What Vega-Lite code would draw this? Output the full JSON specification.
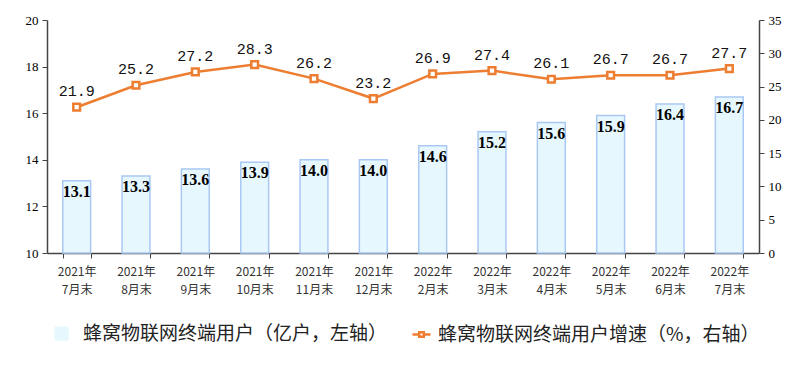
{
  "$schema": "https://vega.github.io/schema/vega-lite/v6.json",
  "width": 712,
  "height": 233,
  "autosize": {"type": "none"},
  "padding": {"left": 47, "top": 20, "right": 46, "bottom": 124},
  "background": "white",
  "config": {"view": {"stroke": null}},
  "data": {"values": [
    {"m": "2021年 7月末", "v": 13.1, "g": 21.9},
    {"m": "2021年 8月末", "v": 13.3, "g": 25.2},
    {"m": "2021年 9月末", "v": 13.6, "g": 27.2},
    {"m": "2021年 10月末", "v": 13.9, "g": 28.3},
    {"m": "2021年 11月末", "v": 14.0, "g": 26.2},
    {"m": "2021年 12月末", "v": 14.0, "g": 23.2},
    {"m": "2022年 2月末", "v": 14.6, "g": 26.9},
    {"m": "2022年 3月末", "v": 15.2, "g": 27.4},
    {"m": "2022年 4月末", "v": 15.6, "g": 26.1},
    {"m": "2022年 5月末", "v": 15.9, "g": 26.7},
    {"m": "2022年 6月末", "v": 16.4, "g": 26.7},
    {"m": "2022年 7月末", "v": 16.7, "g": 27.7}
  ]},
  "encoding": {
    "x": {
      "field": "m", "type": "nominal", "sort": null,
      "scale": {"paddingInner": 0.53, "paddingOuter": 0.265},
      "axis": {
        "title": null, "labelAngle": 0,
        "labelExpr": "isValid(datum.value) ? split(datum.value, ' ') : ''",
        "labelFont": "Noto Sans CJK SC", "labelFontSize": 12, "labelColor": "#333",
        "labelLineHeight": 18, "labelPadding": 8,
        "tickBand": "extent", "tickSize": 5, "tickColor": "#444",
        "domainColor": "#444", "domainWidth": 1.5
      }
    }
  },
  "layer": [
    {
      "encoding": {
        "y": {
          "field": "v", "type": "quantitative",
          "scale": {"domain": [10, 20], "zero": false, "nice": false},
          "axis": {
            "orient": "left", "title": null, "values": [10, 12, 14, 16, 18, 20], "grid": false,
            "labelFont": "Liberation Serif", "labelFontSize": 13, "labelColor": "#000",
            "tickSize": 5, "tickColor": "#444", "domainColor": "#444", "domainWidth": 1.5, "labelPadding": 4
          }
        }
      },
      "layer": [
        {
          "mark": {"type": "bar", "stroke": "#a9c8f3", "strokeWidth": 1.5},
          "encoding": {
            "y2": {"datum": 10},
            "fill": {
              "datum": "蜂窝物联网终端用户（亿户，左轴）",
              "scale": {"range": ["#e6f8fe"]},
              "legend": {
                "orient": "none", "legendX": 5, "legendY": 304,
                "title": null, "symbolType": "square", "symbolSize": 200,
                "symbolStrokeWidth": 0,
                "labelFont": "Noto Sans CJK SC", "labelFontSize": 19, "labelColor": "#222",
                "labelLimit": 400, "labelOffset": 12
              }
            }
          }
        },
        {
          "mark": {"type": "text", "font": "Liberation Serif", "fontWeight": "bold", "fontSize": 16, "baseline": "top", "dy": 3, "color": "#000"},
          "encoding": {"text": {"field": "v", "type": "quantitative", "format": ".1f"}}
        }
      ]
    },
    {
      "encoding": {
        "y": {
          "field": "g", "type": "quantitative",
          "scale": {"domain": [0, 35], "nice": false},
          "axis": {
            "orient": "right", "title": null, "values": [0, 5, 10, 15, 20, 25, 30, 35], "grid": false,
            "labelFont": "Liberation Serif", "labelFontSize": 13, "labelColor": "#000",
            "tickSize": 5, "tickColor": "#444", "domainColor": "#444", "domainWidth": 1.5, "labelPadding": 4
          }
        }
      },
      "layer": [
        {
          "mark": {
            "type": "line", "strokeWidth": 2.5,
            "point": {"filled": false, "fill": "white", "shape": "square", "size": 45, "strokeWidth": 2.5}
          },
          "encoding": {
            "stroke": {
              "datum": "蜂窝物联网终端用户增速（%，右轴）",
              "scale": {"range": ["#ed7d31"]},
              "legend": {
                "orient": "none", "legendX": 364, "legendY": 304,
                "title": null,
                "symbolType": "M-1,0H-0.25M0.25,0H1M-0.25,-0.25H0.25V0.25H-0.25Z",
                "symbolSize": 324, "symbolFillColor": "white", "symbolStrokeWidth": 2.5,
                "labelFont": "Noto Sans CJK SC", "labelFontSize": 19, "labelColor": "#222",
                "labelLimit": 400, "labelOffset": 6
              }
            }
          }
        },
        {
          "mark": {"type": "text", "font": "Liberation Mono", "fontSize": 15, "baseline": "alphabetic", "dy": -11, "color": "#111"},
          "encoding": {"text": {"field": "g", "type": "quantitative", "format": ".1f"}}
        }
      ]
    }
  ],
  "resolve": {"scale": {"y": "independent"}}
}
